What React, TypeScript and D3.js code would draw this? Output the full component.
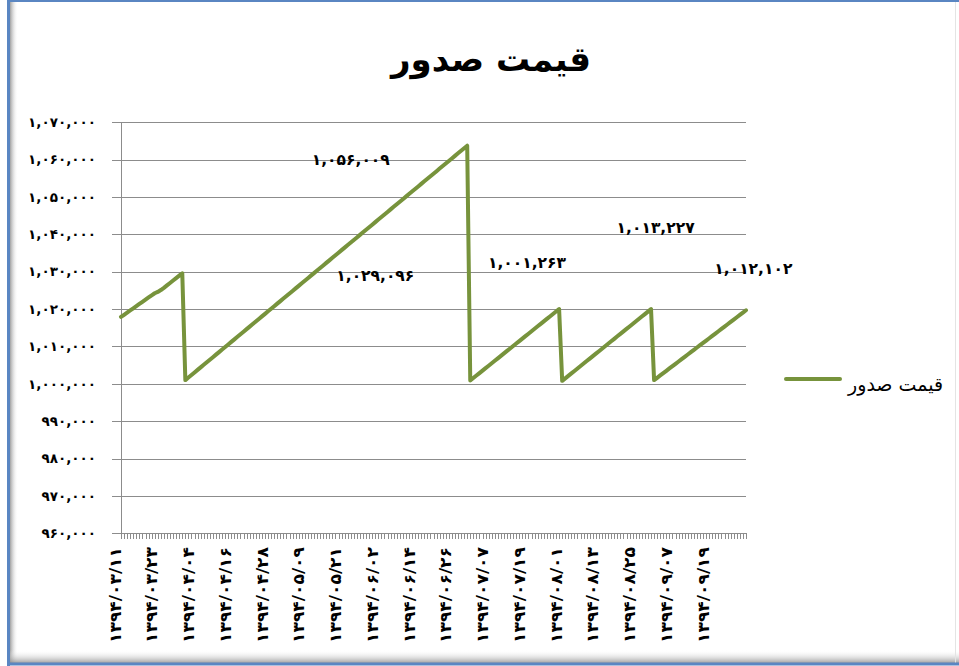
import { useEffect, useRef } from 'react';
import * as d3 from 'd3';

// issue price, one value per day from 1394/03/11, split at each reset
const seg1 = [
  1017900, 1018480, 1019060, 1019640, 1020220, 1020800, 1021380, 1021960, 1022540, 1023120,
  1023700, 1024250, 1024600, 1025100, 1025700, 1026350, 1027000, 1027650, 1028300, 1028950,
  1029600,
];
const seg2 = [
  1001000, 1001680, 1002360, 1003050, 1003730, 1004410, 1005090, 1005770, 1006460, 1007140,
  1007820, 1008500, 1009180, 1009870, 1010550, 1011230, 1011910, 1012590, 1013280, 1013960,
  1014640, 1015320, 1016000, 1016690, 1017370, 1018050, 1018730, 1019410, 1020100, 1020780,
  1021460, 1022140, 1022820, 1023510, 1024190, 1024870, 1025550, 1026230, 1026920, 1027600,
  1028280, 1028960, 1029640, 1030330, 1031010, 1031690, 1032370, 1033050, 1033740, 1034420,
  1035100, 1035780, 1036460, 1037150, 1037830, 1038510, 1039190, 1039870, 1040560, 1041240,
  1041920, 1042600, 1043280, 1043970, 1044650, 1045330, 1046010, 1046690, 1047380, 1048060,
  1048740, 1049420, 1050100, 1050790, 1051470, 1052150, 1052830, 1053510, 1054200, 1054880,
  1055560, 1056240, 1056920, 1057610, 1058290, 1058970, 1059650, 1060330, 1061020, 1061700,
  1062380, 1063060, 1063740,
];
const seg3 = [
  1000900, 1001560, 1002220, 1002880, 1003540, 1004200, 1004850, 1005510, 1006170, 1006830,
  1007490, 1008150, 1008810, 1009470, 1010130, 1010790, 1011440, 1012100, 1012760, 1013420,
  1014080, 1014740, 1015400, 1016060, 1016720, 1017380, 1018030, 1018690, 1019350, 1020010,
];
const seg4 = [
  1000800, 1001460, 1002120, 1002790, 1003450, 1004110, 1004770, 1005430, 1006100, 1006760,
  1007420, 1008080, 1008740, 1009410, 1010070, 1010730, 1011390, 1012050, 1012720, 1013380,
  1014040, 1014700, 1015360, 1016030, 1016690, 1017350, 1018010, 1018670, 1019340, 1020000,
];
const seg5 = [
  1001000, 1001620, 1002250, 1002870, 1003490, 1004120, 1004740, 1005360, 1005980, 1006610,
  1007230, 1007850, 1008480, 1009100, 1009720, 1010350, 1010970, 1011590, 1012210, 1012840,
  1013460, 1014080, 1014710, 1015330, 1015950, 1016580, 1017200, 1017820, 1018440, 1019070,
  1019690,
];
const values = [...seg1, ...seg2, ...seg3, ...seg4, ...seg5];

// x labels shown every 12 days
const tickLabels = [
  '1394/03/11', '1394/03/23', '1394/04/04', '1394/04/16', '1394/04/28', '1394/05/09',
  '1394/05/21', '1394/06/02', '1394/06/14', '1394/06/26', '1394/07/07', '1394/07/19',
  '1394/08/01', '1394/08/13', '1394/08/25', '1394/09/07', '1394/09/19',
];
const labelStep = 12;
const yTicks = [960000, 970000, 980000, 990000, 1000000, 1010000, 1020000, 1030000, 1040000, 1050000, 1060000, 1070000];

// data labels (dragged around in the original): text, day index, value
const noteTexts = [1056009, 1029096, 1001263, 1013227, 1012102];
const noteDays = [75, 83, 132.5, 174.5, 206.4];
const noteValues = [1060000, 1029000, 1032500, 1041900, 1030800];

const title = 'قیمت صدور';
const seriesName = 'قیمت صدور';

const fa = (s: string) => s.replace(/\d/g, (d) => '۰۱۲۳۴۵۶۷۸۹'[+d]);

export default function App() {
  const ref = useRef<SVGSVGElement | null>(null);

  useEffect(() => {
    const svg = d3.select(ref.current);
    svg.selectAll('*').remove();

    const W = 959, H = 666;
    const left = 121, right = 746, top = 122.3, bottom = 533.3;
    const green = '#77933c';
    const font = '"DejaVu Sans", sans-serif';

    const x = d3.scaleLinear().domain([0, values.length - 1]).range([left, right]);
    const y = d3.scaleLinear().domain([960000, 1070000]).range([bottom, top]);

    // frame + inner shadow
    const defs = svg.append('defs');
    const gl = defs.append('linearGradient').attr('id', 'shL').attr('x1', 0).attr('x2', 1).attr('y1', 0).attr('y2', 0);
    gl.append('stop').attr('offset', 0).attr('stop-color', '#8a8a8a').attr('stop-opacity', 0.8);
    gl.append('stop').attr('offset', 1).attr('stop-color', '#fff').attr('stop-opacity', 0);
    const gb = defs.append('linearGradient').attr('id', 'shB').attr('x1', 0).attr('x2', 0).attr('y1', 0).attr('y2', 1);
    gb.append('stop').attr('offset', 0).attr('stop-color', '#fff').attr('stop-opacity', 0);
    gb.append('stop').attr('offset', 1).attr('stop-color', '#8a8a8a').attr('stop-opacity', 0.8);

    svg.append('rect').attr('width', W).attr('height', H).attr('fill', '#fff');
    svg.append('rect').attr('x', 10).attr('y', 2).attr('width', 8).attr('height', 661).attr('fill', 'url(#shL)');
    svg.append('rect').attr('x', 10).attr('y', 650).attr('width', W - 10).attr('height', 13).attr('fill', 'url(#shB)');
    svg.append('line').attr('x1', 955.5).attr('x2', 955.5).attr('y1', 2).attr('y2', 663).attr('stroke', '#e4e4e4');
    svg.append('line').attr('x1', 8.5).attr('x2', 8.5).attr('y1', 0).attr('y2', 666).attr('stroke', '#5a86c2').attr('stroke-width', 3);
    svg.append('line').attr('x1', 7).attr('x2', W).attr('y1', 1).attr('y2', 1).attr('stroke', '#5a86c2').attr('stroke-width', 2);
    svg.append('line').attr('x1', 7).attr('x2', W).attr('y1', 664).attr('y2', 664).attr('stroke', '#5a86c2').attr('stroke-width', 3);

    // title
    svg.append('text')
      .attr('x', 491).attr('y', 71)
      .attr('text-anchor', 'middle')
      .attr('font-family', font).attr('font-weight', 'bold').attr('font-size', 34)
      .attr('direction', 'rtl')
      .text(title);

    // gridlines + y ticks
    svg.append('g').selectAll('line').data(yTicks).enter().append('line')
      .attr('x1', left - 9).attr('x2', right)
      .attr('y1', (d) => Math.round(y(d)) + 0.5).attr('y2', (d) => Math.round(y(d)) + 0.5)
      .attr('stroke', '#8c8c8c').attr('stroke-width', 1);

    svg.append('g').selectAll('text').data(yTicks).enter().append('text')
      .attr('x', 96).attr('y', (d) => y(d))
      .attr('dy', '0.35em')
      .attr('text-anchor', 'end')
      .attr('font-family', font).attr('font-weight', 'bold').attr('font-size', 13.5)
      .text((d) => fa(d3.format(',')(d)));

    // axes
    svg.append('line').attr('x1', left + 0.5).attr('x2', left + 0.5).attr('y1', top).attr('y2', bottom)
      .attr('stroke', '#8c8c8c');
    svg.append('line').attr('x1', left - 9).attr('x2', right).attr('y1', Math.round(bottom) + 0.5).attr('y2', Math.round(bottom) + 0.5)
      .attr('stroke', '#8c8c8c');
    svg.append('g').selectAll('line').data(values).enter().append('line')
      .attr('x1', (_, i) => Math.round(x(i)) + 0.5).attr('x2', (_, i) => Math.round(x(i)) + 0.5)
      .attr('y1', Math.round(bottom)).attr('y2', Math.round(bottom) + 6)
      .attr('stroke', '#8c8c8c');

    svg.append('g').selectAll('text').data(tickLabels).enter().append('text')
      .attr('transform', (_, k) => `translate(${x(k * labelStep) - 6},547) rotate(-90)`)
      .attr('text-anchor', 'end')
      .attr('dominant-baseline', 'central')
      .attr('font-family', font).attr('font-weight', 'bold').attr('font-size', 16)
      .attr('textLength', 96).attr('lengthAdjust', 'spacingAndGlyphs')
      .text((d) => fa(d));

    // series
    const line = d3.line<number>().x((_, i) => x(i)).y((d) => y(d));
    svg.append('path')
      .attr('d', line(values))
      .attr('fill', 'none')
      .attr('stroke', green).attr('stroke-width', 4)
      .attr('stroke-linejoin', 'round').attr('stroke-linecap', 'round');

    // data labels
    svg.append('g').selectAll('text').data(noteTexts).enter().append('text')
      .attr('x', (_, i) => x(noteDays[i])).attr('y', (_, i) => y(noteValues[i]))
      .attr('dy', '0.35em')
      .attr('text-anchor', 'middle')
      .attr('font-family', font).attr('font-weight', 'bold').attr('font-size', 15.5)
      .text((d) => fa(d3.format(',')(d)));

    // legend
    svg.append('line').attr('x1', 786).attr('x2', 840).attr('y1', 379).attr('y2', 379)
      .attr('stroke', green).attr('stroke-width', 4).attr('stroke-linecap', 'round');
    svg.append('text')
      .attr('x', 943).attr('y', 384)
      .attr('dy', '0.35em')
      .attr('text-anchor', 'start')
      .attr('direction', 'rtl')
      .attr('font-family', font).attr('font-size', 19)
      .text(seriesName);
  }, []);

  return (
    <svg
      ref={ref}
      width={959}
      height={666}
      style={{ position: 'absolute', left: 0, top: 0, display: 'block' }}
    />
  );
}
